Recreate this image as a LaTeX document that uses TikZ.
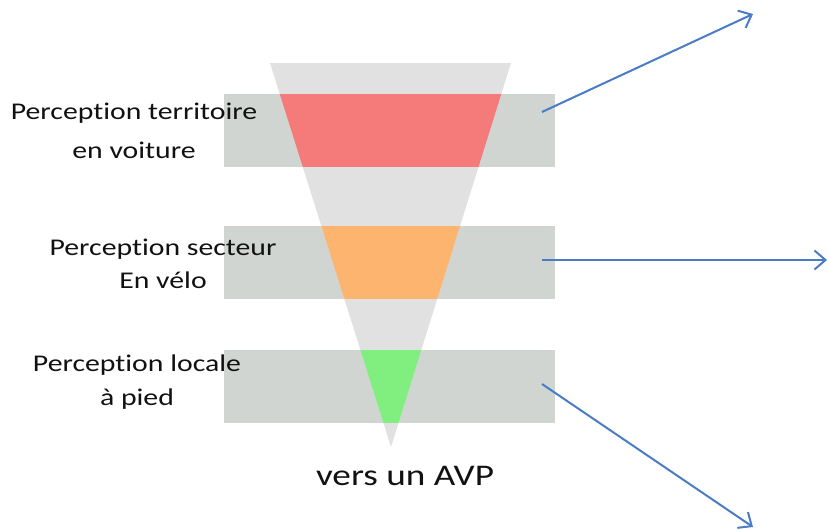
\documentclass[tikz,border=0pt]{standalone}
\usepackage{fontspec}
\setmainfont{Carlito}[Ligatures=NoCommon]
\usetikzlibrary{arrows.meta}
\definecolor{bandgray}{HTML}{D0D5D2}
\definecolor{funnelgray}{HTML}{E1E1E1}
\definecolor{slicered}{HTML}{F47B7A}
\definecolor{sliceorange}{HTML}{FDB46E}
\definecolor{slicegreen}{HTML}{80EF80}
\definecolor{arrowblue}{HTML}{4A7CC6}
\definecolor{textdark}{HTML}{111111}
\tikzset{
  band/.style={fill=bandgray, draw=none, minimum width=331pt, minimum height=73pt, inner sep=0pt},
  lbl/.style={align=center, text=textdark, inner sep=0pt, xscale=1.24, transform shape},
  connector/.style={draw=arrowblue, line width=2pt, -{Straight Barb[length=11pt,width=19pt,line width=2pt]}}
}
\begin{document}
\begin{tikzpicture}[x=1pt,y=-1pt]
\useasboundingbox (0,0) rectangle (828,530);
% bands
\node[band] (b1) at (389.5,130.5) {};
\node[band] (b2) at (389.5,262.5) {};
\node[band] (b3) at (389.5,386.5) {};
% funnel
\coordinate (ftl) at (270,63);
\coordinate (ftr) at (511,63);
\coordinate (fap) at (391,447);
\fill[funnelgray] (ftl) -- (ftr) -- (fap) -- cycle;
\begin{scope}
  \clip (ftl) -- (ftr) -- (fap) -- cycle;
  \fill[slicered] (b1.north west) rectangle (b1.south east);
  \fill[sliceorange] (b2.north west) rectangle (b2.south east);
  \fill[slicegreen] (b3.north west) rectangle (b3.south east);
\end{scope}
% labels
\node[lbl, font=\fontsize{24}{39}\selectfont] (l1) at (134,131) {Perception territoire\\en voiture};
\node[lbl, font=\fontsize{24}{33}\selectfont] (l2) at (163,264) {Perception secteur\\En vélo};
\node[lbl, font=\fontsize{24}{34}\selectfont] (l3) at (137,382) {Perception locale\\à pied};
\node[lbl, font=\fontsize{30}{36}\selectfont, anchor=base] (avp) at (405,485) {vers un AVP};
% connectors
\coordinate (s1) at (542,112);
\coordinate (e1) at (753,14);
\coordinate (s2) at (542,260);
\coordinate (e2) at (827,260);
\coordinate (s3) at (542,384);
\coordinate (e3) at (753,527);
\draw[connector] (s1) -- (e1);
\draw[connector, line width=1.2pt] (s2) -- (e2);
\draw[connector] (s3) -- (e3);
\end{tikzpicture}
\end{document}
